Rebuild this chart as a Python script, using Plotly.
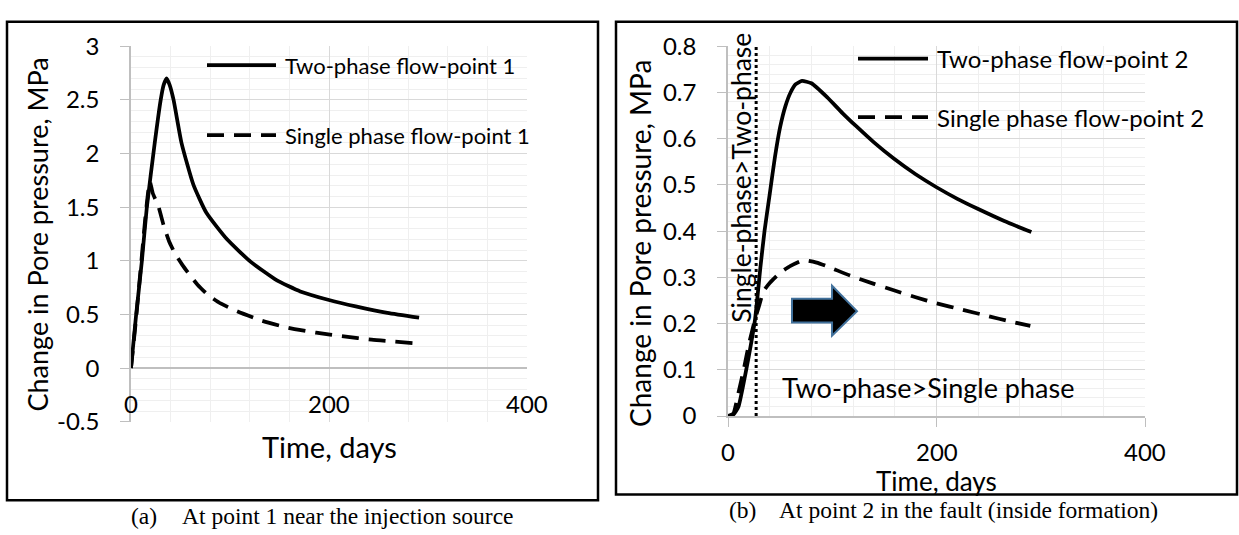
import plotly.graph_objects as go

# ---------------- data ----------------
# Panel (a): point 1 near the injection source
a_two_days = [0, 5, 11, 16, 24, 30, 33, 36, 39, 43, 51, 63, 76, 97, 121, 147, 171, 200, 227, 259, 291]
a_two_vals = [0, 0.48, 1.0, 1.5, 2.1, 2.5, 2.64, 2.7, 2.64, 2.5, 2.1, 1.71, 1.45, 1.2, 0.99, 0.82, 0.715, 0.635, 0.575, 0.515, 0.47]
a_one_days = [0, 5, 10, 15, 19, 22, 27.6, 33, 39, 45, 52, 60, 67, 78, 91, 107, 131, 159, 187, 215, 243, 285]
a_one_vals = [0, 0.45, 0.95, 1.45, 1.74, 1.63, 1.51, 1.33, 1.17, 1.06, 0.96, 0.86, 0.78, 0.68, 0.60, 0.53, 0.445, 0.375, 0.33, 0.295, 0.265, 0.233]

# Panel (b): point 2 in the fault
b_two_days = [0, 5, 10, 14, 20, 26, 31, 35, 40, 45, 50, 55, 60, 65, 71, 80, 95, 110, 123, 140, 159, 180, 200, 220, 239, 265, 291]
b_two_vals = [0, 0.003, 0.02, 0.06, 0.13, 0.21, 0.32, 0.40, 0.48, 0.56, 0.625, 0.67, 0.70, 0.718, 0.725, 0.72, 0.69, 0.655, 0.627, 0.592, 0.557, 0.523, 0.495, 0.47, 0.449, 0.422, 0.398]
b_one_days = [0, 5, 10, 15, 20, 26, 30, 34, 40, 50, 60, 72, 85, 95, 117, 140, 159, 180, 200, 225, 250, 270, 290]
b_one_vals = [0, 0.005, 0.05, 0.10, 0.155, 0.21, 0.24, 0.27, 0.288, 0.31, 0.325, 0.337, 0.332, 0.324, 0.304, 0.286, 0.272, 0.257, 0.244, 0.23, 0.216, 0.205, 0.195]
b_switch_days = [27, 27]
b_switch_vals = [0, 0.8]

x_ticks = [0, 200, 400]
a_y_ticks = [-0.5, 0, 0.5, 1, 1.5, 2, 2.5, 3]
b_y_ticks = [0, 0.1, 0.2, 0.3, 0.4, 0.5, 0.6, 0.7, 0.8]

# arrow vertices (days, MPa)
arrow_x = [61.4, 99.8, 99.8, 123.7, 99.8, 99.8, 61.4]
arrow_y = [0.2536, 0.2536, 0.282, 0.227, 0.174, 0.2025, 0.2025]

# ---------------- layout helpers ----------------
W, H = 1239, 535
def px(x):
    return x / W
def py(y):
    return 1 - y / H

FONT = "Lato, 'Open Sans', sans-serif"
SERIF = "'Liberation Serif', 'Times New Roman', serif"
FS = 24
MAJ = "#D9D9D9"
MIN = "#EFEFEF"
AX = "#BFBFBF"
LW = 3.75
DASH = "17px,10px"

fig = go.Figure()
fig.add_trace(go.Scatter(x=a_two_days, y=a_two_vals, mode="lines", line=dict(color="black", width=LW, shape="spline", smoothing=0.5),
                         name="Two-phase flow-point 1", xaxis="x", yaxis="y", showlegend=False))
fig.add_trace(go.Scatter(x=a_one_days, y=a_one_vals, mode="lines", line=dict(color="black", width=LW, dash=DASH, shape="spline", smoothing=0.5),
                         name="Single phase flow-point 1", xaxis="x", yaxis="y", showlegend=False))
fig.add_trace(go.Scatter(x=b_two_days, y=b_two_vals, mode="lines", line=dict(color="black", width=LW, shape="spline", smoothing=0.5),
                         name="Two-phase flow-point 2", xaxis="x2", yaxis="y2", showlegend=False))
fig.add_trace(go.Scatter(x=b_one_days, y=b_one_vals, mode="lines", line=dict(color="black", width=LW, dash=DASH, shape="spline", smoothing=0.5),
                         name="Single phase flow-point 2", xaxis="x2", yaxis="y2", showlegend=False))
fig.add_trace(go.Scatter(x=b_switch_days, y=b_switch_vals, mode="lines", line=dict(color="black", width=3, dash="dot"),
                         name="switch", xaxis="x2", yaxis="y2", showlegend=False))

common_x = dict(range=[0, 400], tickvals=x_ticks, showticklabels=False, showgrid=True, gridcolor=MAJ, gridwidth=1,
                minor=dict(dtick=40, tick0=0, showgrid=True, gridcolor=MIN, gridwidth=1), zeroline=False, fixedrange=True)

fig.update_layout(
    width=W, height=H, autosize=False,
    margin=dict(l=0, r=0, t=0, b=0),
    paper_bgcolor="white", plot_bgcolor="white",
    font=dict(family=FONT, size=FS, color="black"),
    xaxis=dict(domain=[px(131), px(527)], anchor="y", showline=False, ticks="", **common_x),
    yaxis=dict(domain=[py(429), py(32)], anchor="x", range=[-0.5, 3], tickvals=a_y_ticks,
               ticktext=[("%g" % v) for v in a_y_ticks],
               showgrid=True, gridcolor=MAJ, minor=dict(dtick=0.1, tick0=0, showgrid=True, gridcolor=MIN),
               zeroline=True, zerolinecolor=AX, zerolinewidth=1.5,
               showline=True, linecolor=AX, linewidth=1.5, ticks="outside", ticklen=9, tickcolor=AX,
               ticklabelstandoff=16, tickfont=dict(family=FONT, size=FS), fixedrange=True),
    xaxis2=dict(domain=[px(728), px(1145)], anchor="y2", showline=True, linecolor=AX, linewidth=1.5,
                ticks="outside", ticklen=9, tickcolor=AX, **common_x),
    yaxis2=dict(domain=[py(423), py(32)], anchor="x2", range=[0, 0.8], tickvals=b_y_ticks,
                ticktext=[("%g" % v) for v in b_y_ticks],
                showgrid=True, gridcolor=MAJ, minor=dict(dtick=0.02, tick0=0, showgrid=True, gridcolor=MIN),
                zeroline=False, showline=True, linecolor=AX, linewidth=1.5, ticks="outside", ticklen=9, tickcolor=AX,
                ticklabelstandoff=16, tickfont=dict(family=FONT, size=FS), fixedrange=True),
)

def txt(x, y, s, size, anchor="center", angle=0, family=FONT, xref="paper"):
    return dict(x=x, y=py(y), xref=xref, yref="paper", text=s, showarrow=False, textangle=angle,
                xanchor=anchor, yanchor="middle", font=dict(family=family, size=size, color="black"))

ann = []
# x tick labels
for v in x_ticks:
    ann.append(txt(v, 410, str(v), FS, xref="x"))
    ann.append(txt(v, 460, str(v), FS, xref="x2"))
ann += [
    # axis titles
    txt(px(329), 455, "Time, days", 29),
    txt(px(936), 492, "Time, days", 26),
    txt(px(37), 231, "Change in Pore pressure, MPa", 27, angle=-90),
    txt(px(640), 240, "Change in Pore pressure, MPa", 28, angle=-90),
    # in-plot labels
    txt(px(780), 393, "Two-phase>Single phase", 27, anchor="left"),
    txt(px(741), 171, "Single-phase>Two-phase", 26.5, angle=-90),
    # legends
    txt(px(283), 52, "Two-phase flow-point 1", 22, anchor="left"),
    txt(px(283), 126, "Single phase flow-point 1", 22, anchor="left"),
    txt(px(935), 45, "Two-phase flow-point 2", 24, anchor="left"),
    txt(px(935), 107, "Single phase flow-point 2", 24, anchor="left"),
    # captions
    txt(px(129), 529, "(a)", 23.5, anchor="left", family=SERIF),
    txt(px(180), 529, "At point 1 near the injection source", 23.5, anchor="left", family=SERIF),
    txt(px(727), 522, "(b)", 23.5, anchor="left", family=SERIF),
    txt(px(777), 522, "At point 2 in the fault (inside formation)", 23.5, anchor="left", family=SERIF),
]
fig.update_layout(annotations=ann)

shapes = [
    # panel borders
    dict(type="rect", xref="paper", yref="paper", x0=px(7), x1=px(598), y0=py(512), y1=py(6),
         line=dict(color="black", width=2.5)),
    dict(type="rect", xref="paper", yref="paper", x0=px(616), x1=px(1237), y0=py(506), y1=py(6),
         line=dict(color="black", width=2.5)),
    # legend samples
    dict(type="line", xref="paper", yref="paper", x0=px(207), x1=px(276), y0=py(52), y1=py(52),
         line=dict(color="black", width=LW)),
    dict(type="line", xref="paper", yref="paper", x0=px(207), x1=px(276), y0=py(126), y1=py(126),
         line=dict(color="black", width=LW, dash=DASH)),
    dict(type="line", xref="paper", yref="paper", x0=px(858), x1=px(928), y0=py(45), y1=py(45),
         line=dict(color="black", width=LW)),
    dict(type="line", xref="paper", yref="paper", x0=px(858), x1=px(928), y0=py(107), y1=py(107),
         line=dict(color="black", width=LW, dash=DASH)),
]
path = "M " + " L ".join(f"{x},{y}" for x, y in zip(arrow_x, arrow_y)) + " Z"
shapes.append(dict(type="path", xref="x2", yref="y2", path=path, fillcolor="black",
                   line=dict(color="#41719C", width=2)))
fig.update_layout(shapes=shapes)

fig.write_html("out.html", config={"displayModeBar": False},
               post_script="document.body.style.margin='0px';")
